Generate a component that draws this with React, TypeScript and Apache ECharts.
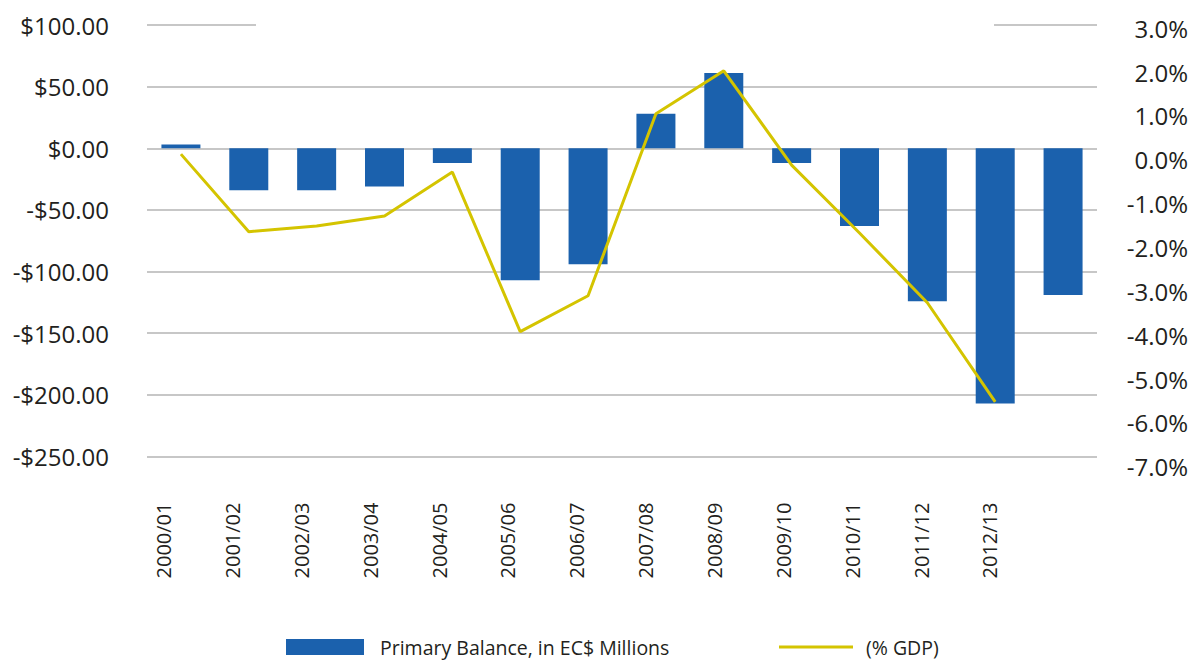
import React, { useEffect, useRef } from "react";
import * as echarts from "echarts";

const categories = [
  "2000/01", "2001/02", "2002/03", "2003/04", "2004/05", "2005/06", "2006/07",
  "2007/08", "2008/09", "2009/10", "2010/11", "2011/12", "2012/13", "",
];
const primaryBalance = [3, -34, -34, -31, -12, -107, -94, 28, 61, -12, -63, -124, -207, -119];
const gdpShare = [0.13, -1.64, -1.51, -1.28, -0.28, -3.92, -3.1, 1.05, 2.03, -0.12, -1.67, -3.26, -5.52];

const leftMin = -250;
const leftMax = 100;
const leftStep = 50;
const rightMin = -7;
const rightMax = 3;
const rightStep = 1;

const barName = "Primary Balance, in EC$ Millions";
const lineName = "(% GDP)";

const FONT = "'Open Sans', 'Noto Sans', sans-serif";
const TEXT = "#231f20";
const BAR = "#1b61ad";
const LINE = "#d4c400";
const GRID = "#b4b4b4";

export default function App() {
  const ref = useRef<HTMLDivElement>(null);

  useEffect(() => {
    if (!ref.current) return;
    const chart = echarts.init(ref.current, undefined, { renderer: "svg" });
    const money = (v: number) =>
      (v < 0 ? "-$" : "$") + Math.abs(v).toFixed(2);
    chart.setOption({
      animation: false,
      backgroundColor: "#ffffff",
      textStyle: { fontFamily: FONT, color: TEXT },
      grid: [
        { left: 147, right: 96, top: 25, bottom: 205.5 },
        { left: 147, right: 96, top: 28.3, bottom: 195.3 },
        { left: 129.1, right: 99.7, top: 25, bottom: 205.5 },
      ],
      legend: [
        {
          data: [{ name: barName, icon: "rect" }],
          left: 286,
          top: 637,
          padding: 0,
          itemWidth: 78,
          itemHeight: 16,
          textStyle: {
            fontFamily: FONT,
            fontSize: 19.5,
            color: TEXT,
            lineHeight: 16,
            padding: [0, 0, 0, 11],
          },
        },
        {
          data: [{ name: lineName, icon: "rect" }],
          left: 779,
          top: 637,
          padding: 0,
          itemWidth: 74,
          itemHeight: 3,
          textStyle: {
            fontFamily: FONT,
            fontSize: 19.5,
            color: TEXT,
            lineHeight: 16,
            padding: [0, 0, 0, 8],
          },
        },
      ],
      xAxis: [
        {
          type: "category",
          gridIndex: 0,
          data: categories,
          axisLine: { show: false },
          axisTick: { show: false },
          axisLabel: { show: false },
        },
        {
          type: "category",
          gridIndex: 1,
          data: categories,
          show: false,
        },
        {
          type: "category",
          gridIndex: 2,
          data: categories,
          axisLine: { show: false },
          axisTick: { show: false },
          axisLabel: {
            interval: 0,
            rotate: 90,
            margin: 46,
            fontSize: 20,
            fontFamily: FONT,
            color: TEXT,
          },
        },
      ],
      yAxis: [
        {
          type: "value",
          gridIndex: 0,
          min: leftMin,
          max: leftMax,
          interval: leftStep,
          axisLine: { show: false },
          axisTick: { show: false },
          axisLabel: {
            formatter: money,
            margin: 38,
            fontSize: 24,
            fontFamily: FONT,
            color: TEXT,
          },
          splitLine: { lineStyle: { color: GRID, width: 1.5 } },
        },
        {
          type: "value",
          gridIndex: 1,
          position: "right",
          min: rightMin,
          max: rightMax,
          interval: rightStep,
          axisLine: { show: false },
          axisTick: { show: false },
          splitLine: { show: false },
          axisLabel: {
            formatter: (v: number) => v.toFixed(1) + "%",
            align: "right",
            margin: 91,
            fontSize: 24,
            fontFamily: FONT,
            color: TEXT,
          },
        },
        { type: "value", gridIndex: 2, show: false },
      ],
      series: [
        {
          name: barName,
          type: "bar",
          xAxisIndex: 0,
          yAxisIndex: 0,
          data: primaryBalance,
          barWidth: 39,
          itemStyle: { color: BAR },
        },
        {
          name: lineName,
          type: "line",
          xAxisIndex: 1,
          yAxisIndex: 1,
          data: gdpShare,
          symbol: "none",
          lineStyle: { color: LINE, width: 3 },
          itemStyle: { color: LINE },
        },
      ],
      graphic: [
        {
          type: "rect",
          z: 100,
          shape: { x: 256, y: 21, width: 738, height: 8 },
          style: { fill: "#ffffff" },
        },
      ],
    });
    return () => chart.dispose();
  }, []);

  return (
    <div
      ref={ref}
      style={{ position: "absolute", left: 0, top: 0, width: 1193, height: 662 }}
    />
  );
}
